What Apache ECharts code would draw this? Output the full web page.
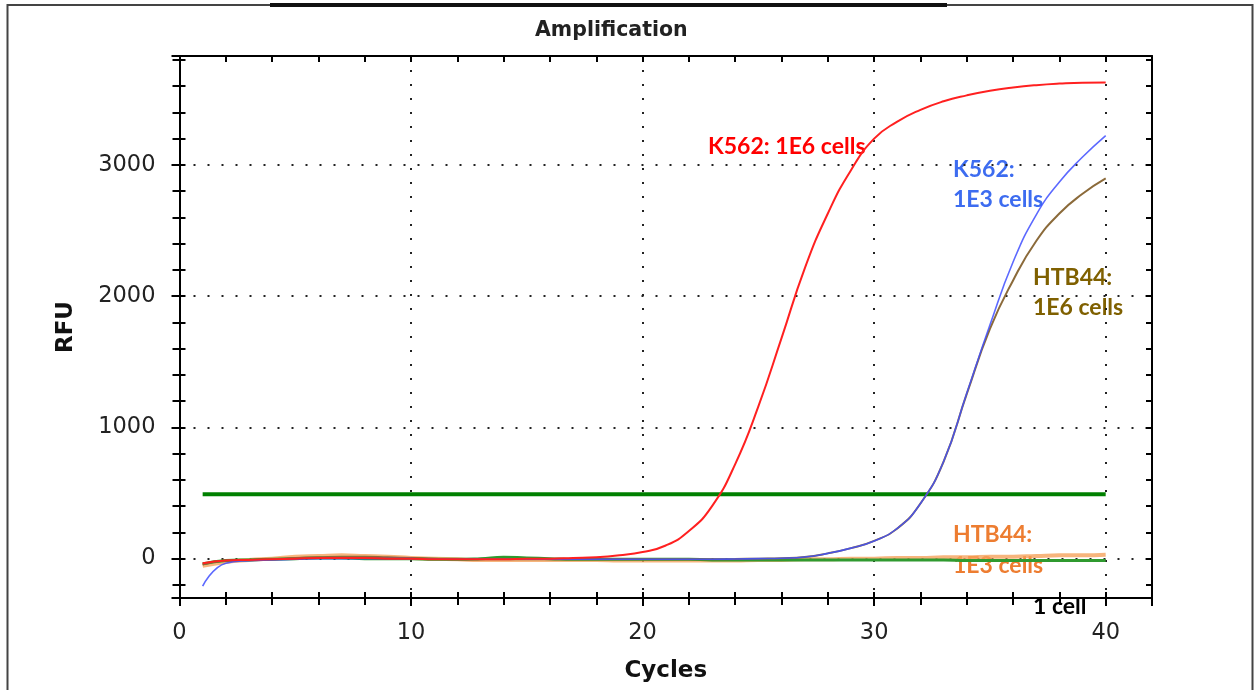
<!DOCTYPE html>
<html><head><meta charset="utf-8">
<script src="https://cdn.jsdelivr.net/npm/echarts@6/dist/echarts.min.js"></script>
<style>html,body{margin:0;padding:0;background:#fff}#c{width:1257px;height:690px}</style>
</head><body><div id="c"></div>
<script>
// ---- data ----
const cycles = [1,2,3,4,5,6,7,8,9,10,11,12,13,14,15,16,17,18,19,20,21,22,23,24,25,26,27,28,29,30,31,32,33,34,35,36,37,38,39,40];
const k562_1e6 = [-35,-15,-10,-5,0,5,5,5,0,0,-5,-5,-5,-5,0,0,5,10,25,50,100,210,400,720,1160,1680,2210,2630,2960,3200,3330,3420,3485,3530,3565,3590,3608,3620,3627,3628];
const k562_1e3 = [-210,-35,-15,-10,-5,0,0,0,0,0,-5,-5,-5,-5,-5,-5,-5,-5,-5,-5,-5,-5,-5,-3,0,3,12,40,80,135,230,420,740,1260,1780,2260,2620,2870,3060,3224];
const htb44_1e6 = [-45,-15,-10,-5,5,10,15,15,10,5,0,-5,-5,-5,-5,-5,-5,-5,-5,-5,-5,-5,-5,-3,0,3,12,40,80,135,230,420,740,1255,1750,2120,2420,2630,2780,2897];
const htb44_1e3 = [-55,-25,-10,0,15,20,25,20,15,5,0,-5,-10,-10,-10,-10,-10,-10,-15,-15,-15,-15,-15,-15,-10,-10,-5,-5,0,0,5,5,10,10,15,15,20,25,25,30];
const oneCell = [-40,-15,-10,-5,0,5,5,0,0,0,-5,-5,0,10,5,0,-5,-5,-5,-5,-5,-5,-10,-10,-10,-10,-10,-10,-10,-10,-10,-10,-10,-15,-15,-15,-15,-15,-15,-15];
const thresholdCycles = [1,40];
const thresholdValues = [490,490];
const xRange = [0,42];
const yRange = [-300,3830];

const pair = (xs, ys) => xs.map((x,i)=>[x, ys[i]]);
const chart = echarts.init(document.getElementById('c'), null, {renderer:'canvas'});

const gridBox = {left:179.5, right:105, top:56, bottom:92};
const black = '#000';
const dotted = {show:true, lineStyle:{type:[2,12], width:2, color:'#222'}};
const labelFont = {fontFamily:'DejaVu Sans', fontSize:22.5, color:'#222'};
const nameFont = {fontFamily:'DejaVu Sans', fontWeight:'bold', fontSize:23, color:'#111'};

function tickAxis(extra){
  return Object.assign({
    type:'value', axisLine:{show:true, onZero:false, lineStyle:{color:black,width:2}},
    axisTick:{show:true, inside:true, length:6, lineStyle:{color:black,width:2}},
    minorTick:{show:true, splitNumber:5, length:6, lineStyle:{color:black,width:2}},
    axisLabel:{show:false}, splitLine:{show:false}
  }, extra);
}

const option = {
  animation:false,
  backgroundColor:'#fff',
  title:{text:'Amplification', left:530, top:15,
    textStyle:{fontFamily:'DejaVu Sans', fontWeight:'bold', fontSize:20.5, color:'#222'}},
  grid:[Object.assign({}, gridBox), Object.assign({}, gridBox)],
  xAxis:[
    {type:'value', gridIndex:0, min:xRange[0], max:xRange[1], interval:10, position:'bottom',
     axisLine:{show:true, onZero:false, lineStyle:{color:black,width:2}},
     axisTick:{show:true, length:8, lineStyle:{color:black,width:2}},
     minorTick:{show:true, splitNumber:5, length:7, lineStyle:{color:black,width:2}},
     axisLabel:Object.assign({margin:24, showMaxLabel:false}, labelFont),
     splitLine:dotted,
     name:'Cycles', nameLocation:'middle', nameGap:62, nameTextStyle:nameFont},
    tickAxis({gridIndex:1, min:xRange[0], max:xRange[1], interval:10, position:'bottom'}),
    tickAxis({gridIndex:1, min:xRange[0], max:xRange[1], interval:10, position:'top'})
  ],
  yAxis:[
    {type:'value', gridIndex:0, min:yRange[0], max:yRange[1], splitNumber:5, position:'left',
     axisLine:{show:true, onZero:false, lineStyle:{color:black,width:2}},
     axisTick:{show:true, length:8, lineStyle:{color:black,width:2}},
     minorTick:{show:true, splitNumber:5, length:7, lineStyle:{color:black,width:2}},
     axisLabel:Object.assign({margin:24, showMinLabel:false, showMaxLabel:false,
       formatter:(v)=>String(v)}, labelFont),
     splitLine:dotted,
     name:'RFU', nameLocation:'middle', nameGap:102, nameTextStyle:nameFont},
    tickAxis({gridIndex:1, min:yRange[0], max:yRange[1], splitNumber:5, position:'left'}),
    tickAxis({gridIndex:1, min:yRange[0], max:yRange[1], splitNumber:5, position:'right'})
  ],
  series:[
    {name:'Threshold', type:'line', data:pair(thresholdCycles, thresholdValues), showSymbol:false,
     lineStyle:{color:'#008000', width:4}, z:2},
    {name:'HTB44: 1E3 cells', type:'line', data:pair(cycles, htb44_1e3), showSymbol:false, smooth:0.5,
     lineStyle:{color:'#f5a25d', width:4, opacity:0.8}, z:3},
    {name:'1 cell', type:'line', data:pair(cycles, oneCell), showSymbol:false, smooth:0.5,
     lineStyle:{color:'#2f9a2f', width:3}, z:3},
    {name:'HTB44: 1E6 cells', type:'line', data:pair(cycles, htb44_1e6), showSymbol:false, smooth:0.5,
     lineStyle:{color:'#8b6a3a', width:2}, z:4},
    {name:'K562: 1E3 cells', type:'line', data:pair(cycles, k562_1e3), showSymbol:false, smooth:0.5,
     lineStyle:{color:'#3f4fff', width:1.6, opacity:0.85}, z:5},
    {name:'K562: 1E6 cells', type:'line', data:pair(cycles, k562_1e6), showSymbol:false, smooth:0.5,
     lineStyle:{color:'#ff2020', width:2}, z:6}
  ],
  graphic:[
    {type:'rect', shape:{x:7.5, y:5, width:1245, height:700}, style:{fill:'none', stroke:'#444', lineWidth:2}, silent:true},
    {type:'line', shape:{x1:270, y1:5, x2:947, y2:5}, style:{stroke:'#111', lineWidth:4}, silent:true},
    {type:'text', x:708, y:147, style:{text:'K562: 1E6 cells', fill:'#ff0000', font:'bold 23px Lato', verticalAlign:'middle'}},
    {type:'text', x:953, y:170, style:{text:'K562:', fill:'#3d6cf0', font:'bold 23px Lato', verticalAlign:'middle'}},
    {type:'text', x:953, y:200, style:{text:'1E3 cells', fill:'#3d6cf0', font:'bold 23px Lato', verticalAlign:'middle'}},
    {type:'text', x:1033, y:278, style:{text:'HTB44:', fill:'#7f6000', font:'bold 23px Lato', verticalAlign:'middle'}},
    {type:'text', x:1033, y:308, style:{text:'1E6 cells', fill:'#7f6000', font:'bold 23px Lato', verticalAlign:'middle'}},
    {type:'text', x:953, y:535, style:{text:'HTB44:', fill:'#ed7d31', font:'bold 23px Lato', verticalAlign:'middle'}},
    {type:'text', x:953, y:566, style:{text:'1E3 cells', fill:'#ed7d31', font:'bold 23px Lato', verticalAlign:'middle'}},
    {type:'text', x:1033, y:607, style:{text:'1 cell', fill:'#000', font:'bold 23px Lato', verticalAlign:'middle'}}
  ]
};
chart.setOption(option);
</script>
</body></html>
